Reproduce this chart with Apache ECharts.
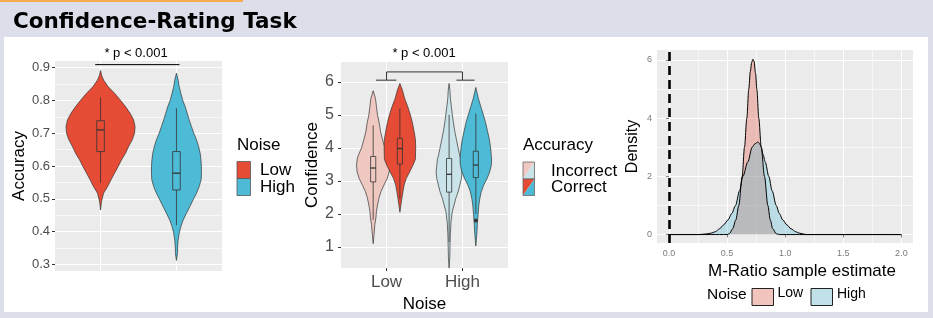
<!DOCTYPE html>
<html>
<head>
<meta charset="utf-8">
<title>Confidence-Rating Task</title>
<script src="https://cdn.jsdelivr.net/npm/echarts@6/dist/echarts.min.js"></script>
<style>
  html, body { margin: 0; padding: 0; }
  #main { width: 933px; height: 318px; }
</style>
</head>
<body>
<div id="main"></div>
<script>
// ---- values ----
var noiseLevels = ['Low', 'High'];

// left panel: accuracy violins (half widths in x-axis units)
var accLowY = [0.466, 0.49, 0.517, 0.537, 0.558, 0.578, 0.598, 0.619, 0.639, 0.659, 0.68, 0.70, 0.72, 0.741, 0.761, 0.781, 0.802, 0.822, 0.842, 0.862, 0.875, 0.891];
var accLowW = [0, 0.011, 0.040, 0.092, 0.138, 0.184, 0.231, 0.277, 0.329, 0.369, 0.418, 0.448, 0.455, 0.435, 0.389, 0.329, 0.257, 0.184, 0.099, 0.040, 0.016, 0];
var accHighY = [0.312, 0.333, 0.354, 0.374, 0.395, 0.415, 0.435, 0.456, 0.476, 0.497, 0.517, 0.537, 0.558, 0.578, 0.598, 0.619, 0.639, 0.659, 0.680, 0.700, 0.720, 0.741, 0.761, 0.781, 0.800, 0.822, 0.842, 0.862, 0.883];
var accHighW = [0, 0.013, 0.016, 0.022, 0.036, 0.057, 0.088, 0.132, 0.175, 0.220, 0.264, 0.299, 0.325, 0.329, 0.329, 0.323, 0.312, 0.292, 0.264, 0.228, 0.198, 0.167, 0.141, 0.115, 0.083, 0.057, 0.036, 0.022, 0];
// box: lower whisker, Q1, median, Q3, upper whisker
var accLowBox = [0.549, 0.644, 0.710, 0.738, 0.809];
var accHighBox = [0.420, 0.527, 0.578, 0.644, 0.776];
var accTicks = [0.3, 0.4, 0.5, 0.6, 0.7, 0.8, 0.9];
var accMinorTicks = [0.35, 0.45, 0.55, 0.65, 0.75, 0.85];

// middle panel: confidence split by accuracy
var confTicks = [1, 2, 3, 4, 5, 6];
var confLowIncY = [1.10, 1.38, 1.68, 1.88, 2.08, 2.27, 2.47, 2.67, 2.87, 3.07, 3.27, 3.47, 3.65, 3.76, 4.00, 4.26, 4.50, 4.76, 5.00, 5.25, 5.50, 5.73];
var confLowIncW = [0, 0.011, 0.022, 0.036, 0.043, 0.057, 0.075, 0.101, 0.141, 0.184, 0.211, 0.220, 0.211, 0.198, 0.154, 0.122, 0.096, 0.079, 0.057, 0.043, 0.030, 0];
var confLowCorY = [2.05, 2.27, 2.47, 2.67, 2.87, 3.07, 3.27, 3.47, 3.65, 4.00, 4.26, 4.50, 4.76, 5.00, 5.25, 5.50, 5.75, 5.95];
var confLowCorW = [0, 0.013, 0.026, 0.040, 0.055, 0.083, 0.128, 0.171, 0.204, 0.208, 0.204, 0.187, 0.165, 0.138, 0.103, 0.062, 0.033, 0];
var confHighIncY = [0.36, 0.69, 1.38, 1.78, 2.08, 2.27, 2.47, 2.67, 2.87, 3.07, 3.27, 3.47, 3.65, 3.76, 4.00, 4.26, 4.50, 4.76, 5.00, 5.25, 5.50, 5.75, 5.95];
var confHighIncW = [0, 0.009, 0.016, 0.026, 0.043, 0.066, 0.088, 0.119, 0.141, 0.162, 0.171, 0.162, 0.154, 0.141, 0.119, 0.096, 0.075, 0.057, 0.043, 0.030, 0.017, 0.011, 0];
var confHighCorY = [1.03, 1.38, 1.68, 1.98, 2.27, 2.47, 2.67, 2.87, 3.07, 3.27, 3.47, 3.65, 3.76, 4.00, 4.26, 4.50, 4.76, 5.00, 5.25, 5.50, 5.83];
var confHighCorW = [0, 0.013, 0.020, 0.030, 0.040, 0.053, 0.072, 0.103, 0.148, 0.182, 0.204, 0.208, 0.204, 0.195, 0.178, 0.155, 0.129, 0.099, 0.066, 0.033, 0];
var confLowIncBox = [1.82, 2.97, 3.39, 3.74, 4.68];
var confLowCorBox = [2.45, 3.51, 3.98, 4.29, 5.20];
var confHighIncBox = [1.15, 2.66, 3.20, 3.68, 5.00];
var confHighCorBox = [2.00, 3.10, 3.48, 3.90, 5.04];
var confHighCorOutliers = [1.8];

// right panel: M-ratio posterior densities
var mratioTicks = [0, 0.5, 1, 1.5, 2];
var mratioMinorTicks = [0.25, 0.75, 1.25, 1.75];
var densTicks = [0, 2, 4, 6];
var densMinorTicks = [1, 3, 5];
var lowDensX = [0, 0.50, 0.52, 0.548, 0.575, 0.601, 0.630, 0.650, 0.670, 0.687, 0.700, 0.712, 0.722, 0.732, 0.745, 0.756, 0.773, 0.794, 0.822, 0.851, 0.872, 0.893, 0.923, 0.95, 2.0];
var lowDensY = [0, 0, 0.03, 0.2, 0.5, 1.0, 2.0, 3.0, 4.0, 5.0, 5.6, 5.92, 6.02, 5.95, 5.55, 5.0, 4.0, 3.0, 2.0, 1.0, 0.5, 0.2, 0.03, 0, 0];
var highDensX = [0, 0.26, 0.32, 0.364, 0.40, 0.436, 0.47, 0.507, 0.54, 0.573, 0.607, 0.636, 0.679, 0.716, 0.74, 0.765, 0.78, 0.794, 0.81, 0.828, 0.859, 0.888, 0.923, 0.95, 0.98, 1.015, 1.05, 1.09, 1.12, 1.18, 2.0];
var highDensY = [0, 0, 0.02, 0.05, 0.1, 0.2, 0.33, 0.5, 0.72, 1.0, 1.5, 2.0, 2.5, 3.0, 3.12, 3.18, 3.12, 3.0, 2.75, 2.5, 2.0, 1.5, 1.0, 0.72, 0.5, 0.33, 0.2, 0.1, 0.05, 0, 0];

// ---- colours ----
var RED = '#E64B35', BLUE = '#4DBBD5';
var PALE_RED = '#efc8c1', PALE_BLUE = '#c9e3e9';

function zip(xs, ys) {
  return xs.map(function (x, i) { return [x, ys[i]]; });
}

var accViolins = [
  { x: 1, y: accLowY, w: accLowW, box: accLowBox, bw: 0.05, fill: RED, out: [] },
  { x: 2, y: accHighY, w: accHighW, box: accHighBox, bw: 0.05, fill: BLUE, out: [] }
];
var dodge = 0.176;
var confViolins = [
  { x: 1 - dodge, y: confLowIncY, w: confLowIncW, box: confLowIncBox, bw: 0.034, fill: PALE_RED, out: [] },
  { x: 1 + dodge, y: confLowCorY, w: confLowCorW, box: confLowCorBox, bw: 0.034, fill: RED, out: [] },
  { x: 2 - dodge, y: confHighIncY, w: confHighIncW, box: confHighIncBox, bw: 0.034, fill: PALE_BLUE, out: [] },
  { x: 2 + dodge, y: confHighCorY, w: confHighCorW, box: confHighCorBox, bw: 0.034, fill: BLUE, out: confHighCorOutliers }
];

function violinRenderer(list) {
  return function (params, api) {
    var v = list[params.dataIndex];
    var right = [], left = [];
    for (var i = 0; i < v.y.length; i++) {
      right.push(api.coord([v.x + v.w[i], v.y[i]]));
      left.unshift(api.coord([v.x - v.w[i], v.y[i]]));
    }
    var b = v.box;
    var tl = api.coord([v.x - v.bw, b[3]]);
    var br = api.coord([v.x + v.bw, b[1]]);
    function seg(p, q, w) {
      return { type: 'line', shape: { x1: p[0], y1: p[1], x2: q[0], y2: q[1] },
               style: { stroke: '#333', lineWidth: w || 0.8 } };
    }
    var kids = [
      { type: 'polygon', shape: { points: right.concat(left) },
        style: { fill: v.fill, stroke: '#333', lineWidth: 0.7 } },
      seg(api.coord([v.x, b[3]]), api.coord([v.x, b[4]])),
      seg(api.coord([v.x, b[1]]), api.coord([v.x, b[0]])),
      { type: 'rect', shape: { x: tl[0], y: tl[1], width: br[0] - tl[0], height: br[1] - tl[1] },
        style: { fill: v.fill, stroke: '#333', lineWidth: 0.8 } },
      seg(api.coord([v.x - v.bw, b[2]]), api.coord([v.x + v.bw, b[2]]), 1.3)
    ];
    v.out.forEach(function (o) {
      var c = api.coord([v.x, o]);
      kids.push({ type: 'circle', shape: { cx: c[0], cy: c[1], r: 2 }, style: { fill: '#333' } });
    });
    return { type: 'group', children: kids };
  };
}

var bracketPaths = [
  [[0.86, 6.05], [1.13, 6.05]],
  [[1.0, 6.05], [1.0, 6.3], [2.0, 6.3], [2.0, 6.05]],
  [[1.92, 6.05], [2.16, 6.05]]
];

var myChart = echarts.init(document.getElementById('main'));

var gridLine = { show: true, lineStyle: { color: '#ffffff', width: 1.1 } };
var minorLine = { show: true, lineStyle: { color: '#ffffff', width: 0.6 } };
var hidden = { show: false };

var option = {
  animation: false,
  backgroundColor: '#dcdfe9',
  textStyle: { fontFamily: 'Liberation Sans' },
  grid: [
    { left: 55, top: 61, width: 167, height: 210, show: true, backgroundColor: '#ebebeb', borderWidth: 0 },
    { left: 341, top: 62, width: 167, height: 209, show: true, backgroundColor: '#ebebeb', borderWidth: 0 },
    { left: 657, top: 50, width: 256, height: 193, show: true, backgroundColor: '#ebebeb', borderWidth: 0 }
  ],
  xAxis: [
    { gridIndex: 0, type: 'value', min: 0.4, max: 2.6, axisLine: hidden,
      axisTick: { show: false, customValues: [1, 2] },
      axisLabel: { show: false, customValues: [1, 2] }, splitLine: gridLine },
    { gridIndex: 1, type: 'value', min: 0.4, max: 2.6, axisLine: hidden,
      axisTick: { show: true, length: 3, customValues: [1, 2], lineStyle: { color: '#333' } },
      axisLabel: { customValues: [1, 2], margin: 6, fontSize: 17, color: '#4d4d4d',
        formatter: function (v) { return noiseLevels[Math.round(v) - 1]; } },
      splitLine: gridLine,
      name: 'Noise', nameLocation: 'middle', nameGap: 23,
      nameTextStyle: { fontSize: 17, color: '#000' } },
    { gridIndex: 2, type: 'value', min: -0.103, max: 2.1, axisLine: hidden,
      axisTick: { show: true, length: 3, customValues: mratioTicks, lineStyle: { color: '#888' } },
      axisLabel: { customValues: mratioTicks, margin: 6, fontSize: 9, color: '#7a7a7a',
        formatter: function (v) { return v.toFixed(1); } },
      splitLine: gridLine,
      name: 'M-Ratio sample estimate', nameLocation: 'middle', nameGap: 12,
      nameTextStyle: { fontSize: 17, color: '#000', padding: [0, 0, 0, 34] } },
    { gridIndex: 2, type: 'value', min: -0.103, max: 2.1, axisLine: hidden,
      axisTick: { show: false, customValues: mratioMinorTicks },
      axisLabel: { show: false, customValues: mratioMinorTicks }, splitLine: minorLine }
  ],
  yAxis: [
    { gridIndex: 0, type: 'value', min: 0.28, max: 0.92, axisLine: hidden,
      axisTick: { show: true, length: 3, customValues: accTicks, lineStyle: { color: '#333' } },
      axisLabel: { customValues: accTicks, margin: 5, fontSize: 13, color: '#4d4d4d',
        formatter: function (v) { return v.toFixed(1); } },
      splitLine: gridLine,
      name: 'Accuracy', nameLocation: 'middle', nameGap: 23,
      nameTextStyle: { fontSize: 17, color: '#000' } },
    { gridIndex: 0, type: 'value', min: 0.28, max: 0.92, axisLine: hidden,
      axisTick: { show: false, customValues: accMinorTicks },
      axisLabel: { show: false, customValues: accMinorTicks }, splitLine: minorLine },
    { gridIndex: 1, type: 'value', min: 0.36, max: 6.6, axisLine: hidden,
      axisTick: { show: true, length: 3, customValues: confTicks, lineStyle: { color: '#333' } },
      axisLabel: { customValues: confTicks, margin: 7, fontSize: 16, color: '#4d4d4d' },
      splitLine: gridLine,
      name: 'Confidence', nameLocation: 'middle', nameGap: 12,
      nameTextStyle: { fontSize: 17, color: '#000' } },
    { gridIndex: 2, type: 'value', min: -0.29, max: 6.34, axisLine: hidden,
      axisTick: { show: true, length: 3, customValues: densTicks, lineStyle: { color: '#888' } },
      axisLabel: { customValues: densTicks, margin: 5, fontSize: 9, color: '#7a7a7a' },
      splitLine: gridLine,
      name: 'Density', nameLocation: 'middle', nameGap: 16,
      nameTextStyle: { fontSize: 16, color: '#000' } },
    { gridIndex: 2, type: 'value', min: -0.29, max: 6.34, axisLine: hidden,
      axisTick: { show: false, customValues: densMinorTicks },
      axisLabel: { show: false, customValues: densMinorTicks }, splitLine: minorLine }
  ],
  series: [
    { type: 'custom', xAxisIndex: 0, yAxisIndex: 0, silent: true,
      renderItem: violinRenderer(accViolins),
      data: accViolins.map(function (v) { return [v.x, v.box[2]]; }) },
    { type: 'line', xAxisIndex: 0, yAxisIndex: 0, silent: true, symbol: 'none',
      lineStyle: { color: '#000', width: 1 }, data: [[0.93, 0.909], [2.04, 0.909]] },
    { type: 'custom', xAxisIndex: 1, yAxisIndex: 2, silent: true,
      renderItem: violinRenderer(confViolins),
      data: confViolins.map(function (v) { return [v.x, v.box[2]]; }) }
  ].concat(bracketPaths.map(function (p) {
    return { type: 'line', xAxisIndex: 1, yAxisIndex: 2, silent: true, symbol: 'none',
             lineStyle: { color: '#333', width: 1 }, data: p };
  })).concat([
    { name: 'Low', type: 'line', xAxisIndex: 2, yAxisIndex: 3, silent: true, symbol: 'none',
      smooth: 0.3, smoothMonotone: 'x',
      lineStyle: { color: '#000', width: 1 }, areaStyle: { color: RED, opacity: 0.3 },
      data: zip(lowDensX, lowDensY),
      markLine: { silent: true, symbol: 'none', label: { show: false },
        lineStyle: { color: '#000', width: 2.6, type: [9, 5] }, data: [{ xAxis: 0 }] } },
    { name: 'High', type: 'line', xAxisIndex: 2, yAxisIndex: 3, silent: true, symbol: 'none',
      smooth: 0.3, smoothMonotone: 'x',
      lineStyle: { color: '#000', width: 1 }, areaStyle: { color: BLUE, opacity: 0.3 },
      data: zip(highDensX, highDensY) }
  ]),
  graphic: [
    { type: 'rect', z: -10, silent: true, shape: { x: 4, y: 37, width: 924, height: 275 }, style: { fill: '#ffffff' } },
    { type: 'rect', silent: true, shape: { x: 0, y: 0, width: 243, height: 2 }, style: { fill: '#f5ab4e' } },
    { type: 'text', x: 13, y: 22, style: { text: 'Confidence-Rating Task', font: 'bold 21.5px "DejaVu Sans"', fill: '#000', verticalAlign: 'middle' } },
    { type: 'text', x: 136, y: 53, style: { text: '* p < 0.001', font: '13px "Liberation Sans"', fill: '#000', align: 'center', verticalAlign: 'middle' } },
    { type: 'text', x: 424, y: 53, style: { text: '* p < 0.001', font: '13px "Liberation Sans"', fill: '#000', align: 'center', verticalAlign: 'middle' } },
    // legend, left panel
    { type: 'text', x: 237, y: 145, style: { text: 'Noise', font: '17px "Liberation Sans"', fill: '#000', verticalAlign: 'middle' } },
    { type: 'rect', shape: { x: 237, y: 161.5, width: 13.5, height: 17 }, style: { fill: RED, stroke: '#555', lineWidth: 0.8 } },
    { type: 'rect', shape: { x: 237, y: 178.5, width: 13.5, height: 17 }, style: { fill: BLUE, stroke: '#555', lineWidth: 0.8 } },
    { type: 'text', x: 260, y: 170, style: { text: 'Low', font: '17px "Liberation Sans"', fill: '#000', verticalAlign: 'middle' } },
    { type: 'text', x: 260, y: 187, style: { text: 'High', font: '17px "Liberation Sans"', fill: '#000', verticalAlign: 'middle' } },
    // legend, middle panel
    { type: 'text', x: 523, y: 145, style: { text: 'Accuracy', font: '17px "Liberation Sans"', fill: '#000', verticalAlign: 'middle' } },
    { type: 'polygon', shape: { points: [[523, 162], [534.5, 162], [523, 179]] }, style: { fill: PALE_RED } },
    { type: 'polygon', shape: { points: [[534.5, 162], [534.5, 179], [523, 179]] }, style: { fill: PALE_BLUE } },
    { type: 'rect', shape: { x: 523, y: 162, width: 11.5, height: 17 }, style: { fill: 'none', stroke: '#666', lineWidth: 0.8 } },
    { type: 'polygon', shape: { points: [[523, 179], [534.5, 179], [523, 195.5]] }, style: { fill: RED } },
    { type: 'polygon', shape: { points: [[534.5, 179], [534.5, 195.5], [523, 195.5]] }, style: { fill: BLUE } },
    { type: 'rect', shape: { x: 523, y: 179, width: 11.5, height: 16.5 }, style: { fill: 'none', stroke: '#666', lineWidth: 0.8 } },
    { type: 'text', x: 551, y: 171, style: { text: 'Incorrect', font: '17px "Liberation Sans"', fill: '#000', verticalAlign: 'middle' } },
    { type: 'text', x: 551, y: 187, style: { text: 'Correct', font: '17px "Liberation Sans"', fill: '#000', verticalAlign: 'middle' } },
    // legend, right panel
    { type: 'text', x: 707, y: 295, style: { text: 'Noise', font: '15.5px "Liberation Sans"', fill: '#000', verticalAlign: 'middle' } },
    { type: 'rect', shape: { x: 752, y: 288.5, width: 21.5, height: 17 }, style: { fill: '#f1c4bd', stroke: '#222', lineWidth: 1 } },
    { type: 'text', x: 777.5, y: 293, style: { text: 'Low', font: '14px "Liberation Sans"', fill: '#000', verticalAlign: 'middle' } },
    { type: 'rect', shape: { x: 811, y: 288.5, width: 21.5, height: 17 }, style: { fill: '#c0e1e7', stroke: '#222', lineWidth: 1 } },
    { type: 'text', x: 837, y: 294, style: { text: 'High', font: '14px "Liberation Sans"', fill: '#000', verticalAlign: 'middle' } }
  ]
};

myChart.setOption(option);
window.onresize = function () { myChart.resize(); };
</script>
</body>
</html>
